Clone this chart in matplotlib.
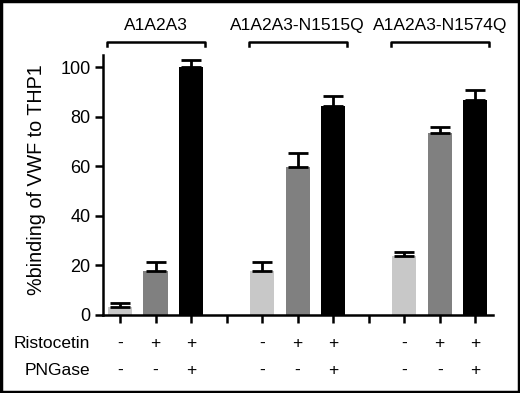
import matplotlib
matplotlib.use("Agg")
import matplotlib.pyplot as plt
import matplotlib.transforms as mtransforms
import numpy as np

plt.rcParams["font.family"] = ["Liberation Sans", "DejaVu Sans"]

# ── Datos ────────────────────────────────────────────────────────────
grupos = ["A1A2A3", "A1A2A3-N1515Q", "A1A2A3-N1574Q"]
valores = [
    [3.4, 17.7, 100.0],
    [17.9, 59.7, 84.3],
    [23.8, 73.4, 86.7],
]
errores = [
    [1.3, 3.9, 3.1],
    [3.6, 5.6, 4.0],
    [1.5, 2.4, 4.0],
]
ristocetina = ["-", "+", "+"]
pngasa = ["-", "-", "+"]
colores = ["#c8c8c8", "#808080", "#000000"]

fig = plt.figure(figsize=(5.2, 3.93), dpi=100)
ax = fig.add_axes([0.198, 0.1985, 0.75, 0.6615])

trans = mtransforms.blended_transform_factory(ax.transData, ax.transAxes)

for g, nombre in enumerate(grupos):
    centro = g * 4 + 1
    xs = np.arange(3) + g * 4
    ax.bar(xs, valores[g], width=0.68, color=colores, zorder=2)
    ax.errorbar(xs, valores[g], yerr=[np.zeros(3), errores[g]], fmt="none",
                ecolor="black", elinewidth=2, capsize=7, capthick=2, zorder=3)
    # Corchete y nombre del grupo
    x0, x1 = centro - 1.38, centro + 1.38
    ax.plot([x0, x0, x1, x1], [1.035, 1.05, 1.05, 1.035], color="black",
            lw=1.8, transform=trans, clip_on=False)
    ax.text(centro, 1.115, nombre, transform=trans, ha="center", va="center",
            fontsize=12.5)
    # Filas de tratamientos
    for i, x in enumerate(xs):
        ax.text(x, -0.108, ristocetina[i], transform=trans, ha="center",
                va="center", fontsize=12.5)
        ax.text(x, -0.212, pngasa[i], transform=trans, ha="center",
                va="center", fontsize=12.5)

ax.text(-0.033, -0.108, "Ristocetin", transform=ax.transAxes, ha="right",
        va="center", fontsize=12.5)
ax.text(-0.033, -0.212, "PNGase", transform=ax.transAxes, ha="right",
        va="center", fontsize=12.5)

ax.set_xlim(-0.48, 10.5)
ax.set_ylim(0, 105)
ax.set_xticks(np.arange(11))
ax.set_xticklabels([])
ax.set_yticks([0, 20, 40, 60, 80, 100])
ax.tick_params(axis="y", labelsize=13, width=1.8, length=6, pad=3)
ax.tick_params(axis="x", width=1.8, length=6)
ax.set_ylabel("%binding of VWF to THP1", fontsize=14.2)
ax.yaxis.set_label_coords(-0.145, 0.52)
for lado in ["top", "right"]:
    ax.spines[lado].set_visible(False)
for lado in ["left", "bottom"]:
    ax.spines[lado].set_linewidth(1.8)

# Marco negro alrededor de la figura
fig.patches.append(plt.Rectangle((0.002, 0.002), 0.996, 0.996, fill=False,
                                 lw=2.5, edgecolor="black",
                                 transform=fig.transFigure, figure=fig))

fig.savefig("out.png", dpi=100)
